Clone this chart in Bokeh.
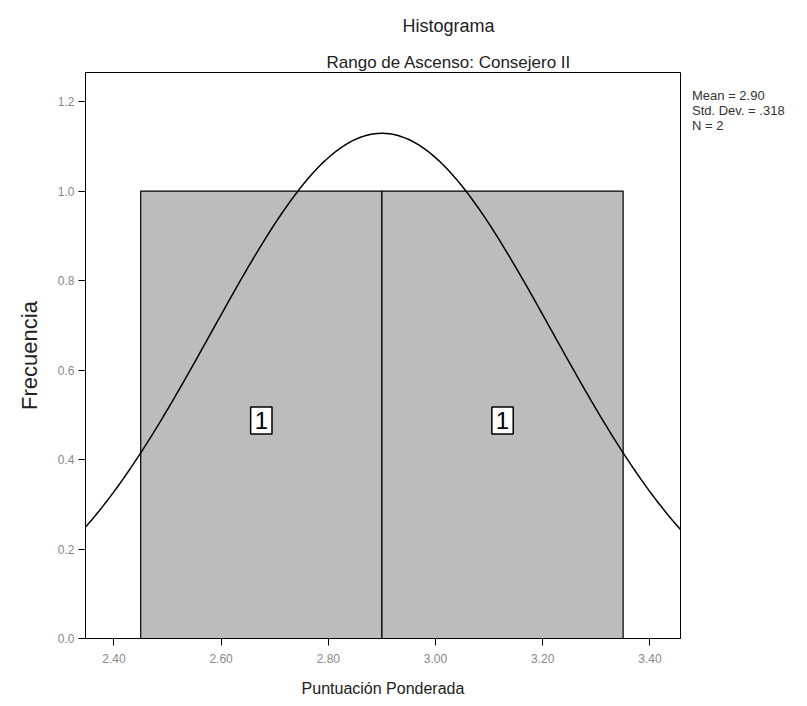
import math
from bokeh.plotting import figure
from bokeh.models import (Range1d, Label, FixedTicker, ColumnDataSource, Title,
                          Legend, LegendItem)
from bokeh.embed import file_html
from bokeh.resources import INLINE

# Data
bin_left = [2.45, 2.90]
bin_right = [2.90, 3.35]
counts = [1, 1]
mean = 2.90
std_dev = 0.318
n_obs = 2
x_ticks = [2.40, 2.60, 2.80, 3.00, 3.20, 3.40]
y_ticks = [0.0, 0.2, 0.4, 0.6, 0.8, 1.0, 1.2]
stats_lines = ["Mean = 2.90", "Std. Dev. = .318", "N = 2"]

FONT = "Liberation Sans"
X0, X1 = 2.347, 3.457

p = figure(frame_width=595, frame_height=566, output_backend="svg",
           toolbar_location=None,
           x_range=Range1d(X0, X1), y_range=Range1d(0, 1.265),
           min_border_left=85, min_border_right=10, min_border_top=0,
           min_border_bottom=8)
p.outline_line_color = "black"
p.outline_line_width = 1
p.grid.visible = False
p.background_fill_color = "white"
p.border_fill_color = "white"

src = ColumnDataSource(dict(left=bin_left, right=bin_right, top=counts,
                            bottom=[0] * len(counts),
                            cx=[(a + b) / 2 for a, b in zip(bin_left, bin_right)],
                            lab=[str(c) for c in counts]))
p.quad(left="left", right="right", top="top", bottom="bottom", source=src,
       fill_color="#bcbcbc", line_color="black", line_width=1.2)

# normal curve fitted from the displayed statistics
bw = bin_right[0] - bin_left[0]
xs = [X0 + i * (X1 - X0) / 300 for i in range(301)]
ys = [n_obs * bw / (std_dev * math.sqrt(2 * math.pi)) *
      math.exp(-0.5 * ((x - mean) / std_dev) ** 2) for x in xs]
p.line(xs, ys, line_color="black", line_width=1.5)

# count labels in boxes
for cx, lab in zip(src.data["cx"], src.data["lab"]):
    p.add_layout(Label(x=cx, y=0.487, text=lab, text_align="center",
                       text_baseline="middle", text_font=FONT,
                       text_font_size="24px", text_color="black",
                       background_fill_color="white", border_line_color="black",
                       border_line_width=1.5, padding=(4, 5)))

# axes
for ax in (p.xaxis[0], p.yaxis[0]):
    ax.axis_line_color = "black"
    ax.major_tick_line_color = "black"
    ax.minor_tick_line_color = None
    ax.major_label_text_color = "#888888"
    ax.major_label_text_font = FONT
    ax.major_label_text_font_size = "12px"
    ax.major_tick_out = 7
    ax.major_tick_in = 0
    ax.axis_label_text_font = FONT
    ax.axis_label_text_font_style = "normal"
    ax.axis_label_text_color = "#222222"
p.xaxis.ticker = FixedTicker(ticks=x_ticks)
p.yaxis.ticker = FixedTicker(ticks=y_ticks)
p.xaxis.major_label_overrides = {t: f"{t:.2f}" for t in x_ticks}
p.yaxis.major_label_overrides = {t: f"{t:.1f}" for t in y_ticks}
p.xaxis.major_label_standoff = 8
p.yaxis.major_label_standoff = 4
p.xaxis.axis_label = "Puntuación Ponderada"
p.xaxis.axis_label_text_font_size = "16px"
p.xaxis.axis_label_standoff = 14
p.yaxis.axis_label = "Frecuencia"
p.yaxis.axis_label_text_font_size = "22px"
p.yaxis.axis_label_standoff = 13

# titles (subtitle first = nearest the frame)
p.add_layout(Title(text="Rango  de Ascenso: Consejero II", align="left",
                   offset=241, text_font=FONT, text_font_size="17px",
                   text_font_style="normal", text_color="#222222",
                   standoff=2), "above")
p.add_layout(Title(text="Histograma", align="left", offset=317,
                   text_font=FONT, text_font_size="18px",
                   text_font_style="normal", text_color="#222222",
                   text_line_height=0.8, standoff=27), "above")

# statistics box to the right of the frame
dummy = p.scatter([mean], [0], alpha=0, size=0)
legend = Legend(items=[LegendItem(label=s, renderers=[dummy]) for s in stats_lines],
                location=(12, 505), glyph_width=0, glyph_height=12,
                label_standoff=0, label_height=12, spacing=0, padding=0,
                margin=0, border_line_color=None, background_fill_alpha=0,
                label_text_font=FONT, label_text_font_size="13px",
                label_text_color="#333333")
p.add_layout(legend, "right")

open("out.html", "w").write(file_html(p, INLINE))
